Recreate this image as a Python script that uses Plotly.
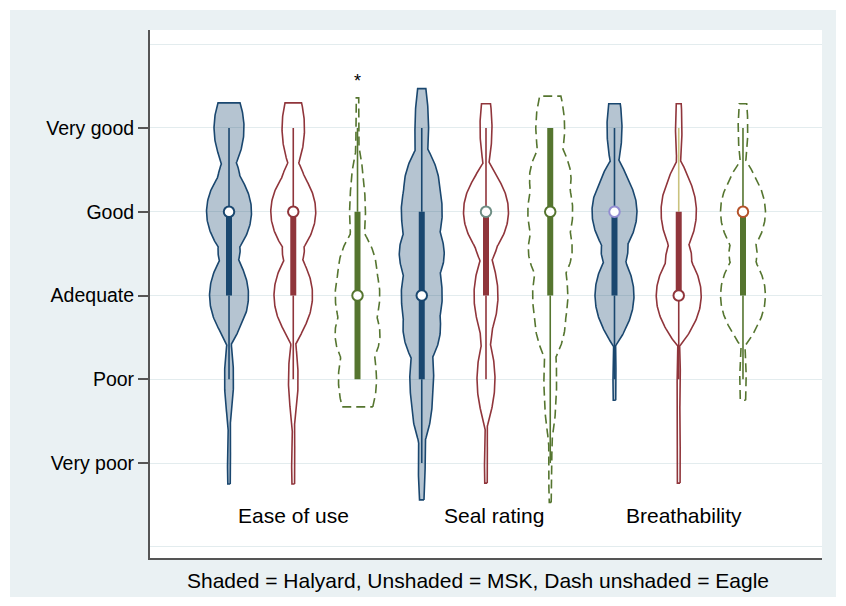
import numpy as np
import plotly.graph_objects as go

# ---------------- data ----------------
levels = [1, 2, 3, 4, 5]
level_labels = ["Very poor", "Poor", "Adequate", "Good", "Very good"]
groups = ["Ease of use", "Seal rating", "Breathability"]
brands = ["Halyard", "MSK", "Eagle"]

# response counts per level (Very poor .. Very good)
ease_halyard = [1, 3, 13, 15, 10]
ease_msk = [1, 3, 12, 14, 7]
ease_eagle = [0, 12, 14, 5, 1]
seal_halyard = [2, 7, 12, 12, 4]
seal_msk = [1, 6, 8, 15, 4]
seal_eagle = [1, 4, 11, 14, 9]
breath_halyard = [0, 1, 13, 15, 5]
breath_msk = [1, 1, 14, 11, 2]
breath_eagle = [0, 2, 14, 14, 3]

# kernel bandwidth and evaluated span of each density
bandwidth = [0.26, 0.26, 0.33, 0.333, 0.26, 0.33, 0.27, 0.27, 0.27]
span_lo = [0.75, 0.75, 1.67, 0.56, 0.76, 0.53, 1.75, 0.76, 1.75]
span_hi = [5.30, 5.30, 5.36, 5.47, 5.29, 5.38, 5.29, 5.29, 5.29]

# box statistics
q1 = [3, 3, 2, 2, 3, 3, 3, 3, 3]
median = [4, 4, 3, 3, 4, 4, 4, 3, 4]
q3 = [4, 4, 4, 4, 4, 5, 4, 4, 4]
whisker_lo = [2, 2, 2, 1, 2, 1, 2, 2, 2]
whisker_hi = [5, 5, 5, 5, 5, 5, 5, 5, 5]

all_counts = [ease_halyard, ease_msk, ease_eagle,
              seal_halyard, seal_msk, seal_eagle,
              breath_halyard, breath_msk, breath_eagle]

# ---------------- styles ----------------
NAVY = "#1a476f"
MAROON = "#90353b"
GREEN = "#55752f"
TEAL = "#6e8e84"
LAVENDER = "#938dd2"
KHAKI = "#cac27e"
SIENNA = "#b5532a"

brand_color = {"Halyard": NAVY, "MSK": MAROON, "Eagle": GREEN}
brand_fill = {"Halyard": "rgba(26,71,111,0.32)", "MSK": "rgba(0,0,0,0)", "Eagle": "rgba(0,0,0,0)"}
brand_dash = {"Halyard": "solid", "MSK": "solid", "Eagle": "9px,5px"}
median_edge = [NAVY, MAROON, GREEN, NAVY, TEAL, GREEN, LAVENDER, MAROON, SIENNA]
upper_whisker_color = [NAVY, MAROON, GREEN, NAVY, MAROON, GREEN, NAVY, KHAKI, GREEN]

HALF_WIDTH = 0.35
FONT = "Liberation Sans, Arial, Helvetica, sans-serif"


def epan_kde(counts, h, lo, hi, n=300):
    y = np.linspace(lo, hi, n)
    u = (y[:, None] - np.array(levels, dtype=float)[None, :]) / h
    k = np.where(np.abs(u) < np.sqrt(5), 0.75 * (1 - u ** 2 / 5) / np.sqrt(5), 0.0)
    f = (k * np.array(counts, dtype=float)[None, :]).sum(axis=1) / (sum(counts) * h)
    return y, f


fig = go.Figure()

i = 0
for g in groups:
    for b in brands:
        pos = i + 1
        col = brand_color[b]
        y, f = epan_kde(all_counts[i], bandwidth[i], span_lo[i], span_hi[i])
        w = f / f.max() * HALF_WIDTH
        xs = np.concatenate([pos + w, (pos - w)[::-1], [pos + w[0]]])
        ys = np.concatenate([y, y[::-1], [y[0]]])
        fig.add_trace(go.Scatter(
            x=xs, y=ys, mode="lines", fill="toself", fillcolor=brand_fill[b],
            line=dict(color=col, width=1.6, dash=brand_dash[b]),
            hoverinfo="skip", showlegend=False))
        # whiskers
        fig.add_trace(go.Scatter(
            x=[pos, pos], y=[whisker_lo[i], q1[i]], mode="lines",
            line=dict(color=col, width=1.6), hoverinfo="skip", showlegend=False))
        fig.add_trace(go.Scatter(
            x=[pos, pos], y=[q3[i], whisker_hi[i]], mode="lines",
            line=dict(color=upper_whisker_color[i], width=1.6), hoverinfo="skip", showlegend=False))
        # box
        fig.add_trace(go.Scatter(
            x=[pos, pos], y=[q1[i], q3[i]], mode="lines",
            line=dict(color=col, width=6), hoverinfo="skip", showlegend=False))
        # median
        fig.add_trace(go.Scatter(
            x=[pos], y=[median[i]], mode="markers",
            marker=dict(symbol="circle", size=10.5, color="white",
                        line=dict(color=median_edge[i], width=2)),
            hoverinfo="skip", showlegend=False))
        i += 1

group_label_x = [2, 5.12, 8.08]
group_label_y = 0.37
for gx, g in zip(group_label_x, groups):
    fig.add_annotation(x=gx, y=group_label_y, text=g, showarrow=False,
                       font=dict(family=FONT, size=21, color="black"),
                       xanchor="center", yanchor="middle")

# significance star above Eagle / Ease of use
fig.add_annotation(x=3, y=5.56, text="*", showarrow=False,
                   font=dict(family=FONT, size=18, color="black"),
                   xanchor="center", yanchor="middle")

fig.add_annotation(xref="paper", yref="paper", x=0.488, y=-0.042,
                   text="Shaded = Halyard, Unshaded = MSK, Dash unshaded = Eagle",
                   showarrow=False, font=dict(family=FONT, size=21, color="black"),
                   xanchor="center", yanchor="middle")

# outer light background and white plot region
fig.add_shape(type="rect", xref="paper", yref="paper", x0=-0.2083, x1=1.0208,
              y0=-0.0739, y1=1.0379, fillcolor="#eaf1f3", line=dict(width=0), layer="below")
fig.add_shape(type="rect", xref="paper", yref="paper", x0=0, x1=1, y0=0, y1=1,
              fillcolor="white", line=dict(width=0), layer="below")

fig.update_layout(
    width=838, height=598,
    margin=dict(l=142, r=24, t=22, b=48),
    paper_bgcolor="white", plot_bgcolor="rgba(0,0,0,0)",
    font=dict(family=FONT, color="black"),
    xaxis=dict(range=[-0.23, 10.23], showgrid=False, zeroline=False,
               showticklabels=False, ticks="", showline=True,
               linecolor="#555555", linewidth=2),
    yaxis=dict(range=[-0.134, 6.17], tickvals=levels, ticktext=level_labels,
               ticks="outside", ticklen=10, tickwidth=1.5, tickcolor="#555555",
               tickfont=dict(family=FONT, size=19.5, color="black"),
               showline=True, linecolor="#555555", linewidth=2,
               showgrid=True, gridcolor="#e3ecee", gridwidth=1.2, zeroline=False,
               minor=dict(tickvals=[0, 6], showgrid=True, gridcolor="#e3ecee",
                          gridwidth=1.2, ticks="")),
)

fig.write_html("out.html")
